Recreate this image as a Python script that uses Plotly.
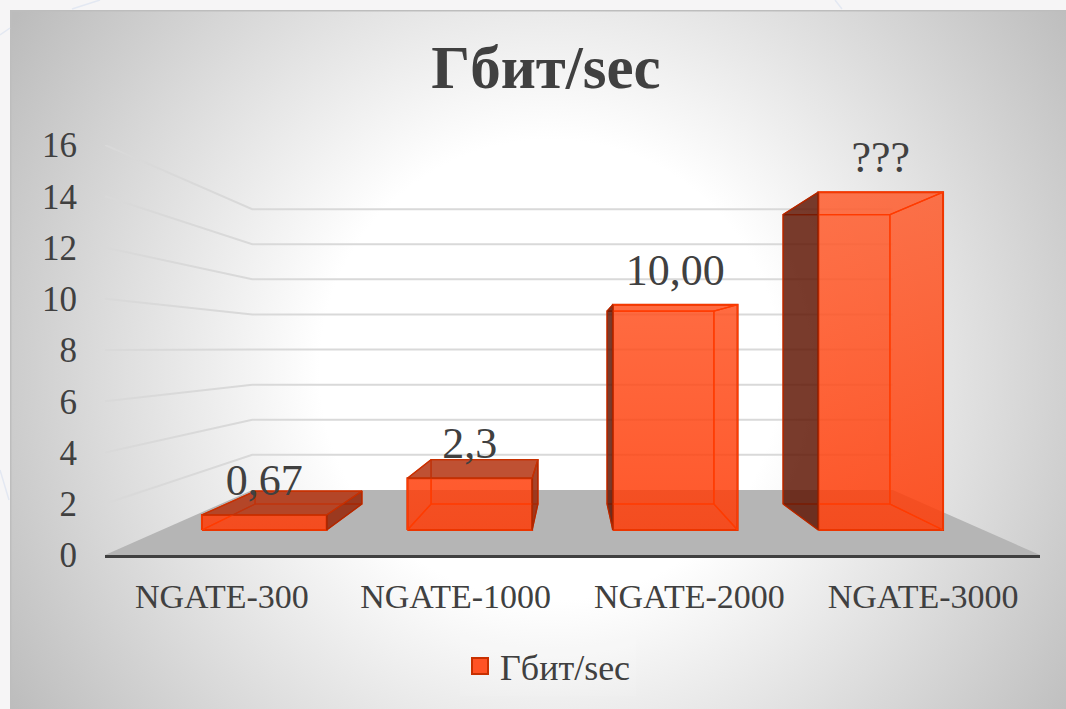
import base64
import plotly.graph_objects as go

# ---- data ----
categories = ["NGATE-300", "NGATE-1000", "NGATE-2000", "NGATE-3000"]
values = [0.67, 2.3, 10.0, 15.0]
value_labels = ["0,67", "2,3", "10,00", "???"]
y_ticks = [0, 2, 4, 6, 8, 10, 12, 14, 16]
series_name = "Гбит/sec"
chart_title = "Гбит/sec"

# ---- layout / perspective constants ----
W, H = 1066, 709
L, R, T, B = 105, 1040, 145, 555
FONT = "Liberation Serif"
TXT = "#404040"
CX, CY = 1.5, 8.055          # vanishing point in axis units
S_BACK, S_NEAR, S_FAR = 0.685, 0.879, 0.753
BAR_W = 0.607


def proj(x, h, s):
    return CX + s * (x - CX), CY + s * (h - CY)


def poly(pts):
    pts = list(pts) + [pts[0]]
    return [p[0] for p in pts], [p[1] for p in pts]


fig = go.Figure()


def face(pts, fill, line="#e23200", width=1.3, gradient=None):
    xs, ys = poly(pts)
    kw = dict(fillgradient=gradient) if gradient else dict(fillcolor=fill)
    fig.add_trace(go.Scatter(x=xs, y=ys, mode="lines", fill="toself",
                             line=dict(color=line, width=width),
                             hoverinfo="skip", showlegend=False, cliponaxis=False, **kw))


# floor
x0, x1 = -0.5, 3.5
face([proj(x0, 0, 1), proj(x0, 0, S_BACK), proj(x1, 0, S_BACK), proj(x1, 0, 1)],
     "#b5b5b5", line="rgba(0,0,0,0)", width=0)

# wall gridlines
for t in y_ticks[1:]:
    a, b, c = proj(x0, t, 1), proj(x0, t, S_BACK), proj(x1, t, S_BACK)
    fig.add_trace(go.Scatter(x=[a[0], b[0], c[0]], y=[a[1], b[1], c[1]], mode="lines",
                             line=dict(color="#d9d9d9", width=2),
                             hoverinfo="skip", showlegend=False, cliponaxis=False))

# bars
INNER = "rgba(255,60,5,0.0)"
SIDE_RIGHT = "rgba(150,35,5,0.85)"
SIDE_LEFT = "rgba(95,22,3,0.84)"
TOP_DARK = "rgba(180,50,15,0.85)"
EDGE = "#d83000"
FRONT_GRAD = dict(type="vertical", start=proj(0, 0, S_NEAR)[1], stop=proj(0, 15, S_NEAR)[1],
                  colorscale=[[0, "rgba(255,58,5,0.85)"], [1, "rgba(255,92,45,0.85)"]])
for i, v in enumerate(values):
    l, r = i - BAR_W / 2, i + BAR_W / 2
    nb = {"l": proj(l, 0, S_NEAR), "r": proj(r, 0, S_NEAR)}
    nt = {"l": proj(l, v, S_NEAR), "r": proj(r, v, S_NEAR)}
    fb = {"l": proj(l, 0, S_FAR), "r": proj(r, 0, S_FAR)}
    ft = {"l": proj(l, v, S_FAR), "r": proj(r, v, S_FAR)}
    # front
    face([nb["l"], nt["l"], nt["r"], nb["r"]], None, line=EDGE, width=2, gradient=FRONT_GRAD)
    # inner edges seen through the front
    face([fb["l"], ft["l"], ft["r"], fb["r"]], INNER, line="#ff3b00", width=1.2)
    face([nb["l"], fb["l"], fb["r"], nb["r"]], INNER, line="#ff3b00", width=1.2)
    left_visible = i > CX
    top_visible = v < CY
    if left_visible:
        face([nb["r"], nt["r"], ft["r"], fb["r"]], INNER, line="#ff3b00", width=1.2)
    else:
        face([nb["l"], nt["l"], ft["l"], fb["l"]], INNER, line="#ff3b00", width=1.2)
    if not top_visible:
        face([nt["l"], ft["l"], ft["r"], nt["r"]], INNER, line="#ff3b00", width=1.2)
    # visible outer faces
    if left_visible:
        face([nb["l"], nt["l"], ft["l"], fb["l"]], SIDE_LEFT, line="#b02800")
    else:
        face([nb["r"], nt["r"], ft["r"], fb["r"]], SIDE_RIGHT, line="#b02800")
    if top_visible:
        face([nt["l"], ft["l"], ft["r"], nt["r"]], TOP_DARK, line="#c83000")

# value labels
lx, ly = [], []
for i, v in enumerate(values):
    p = proj(i, v, S_NEAR)
    lx.append(p[0])
    ly.append(p[1] + 0.35)
fig.add_trace(go.Scatter(x=lx, y=ly, mode="text", text=value_labels, textposition="top center",
                         textfont=dict(family=FONT, size=44, color=TXT),
                         hoverinfo="skip", showlegend=False, cliponaxis=False))

# legend entry
fig.add_trace(go.Scatter(x=[None], y=[None], mode="markers", name=series_name,
                         marker=dict(symbol="square", size=16, color="#ff5224",
                                     line=dict(color="#c83000", width=2))))

# panel gradient
svg = (
    '<svg xmlns="http://www.w3.org/2000/svg" width="1056" height="699">'
    '<defs><radialGradient id="g" gradientUnits="userSpaceOnUse" cx="540" cy="360" r="640">'
    '<stop offset="0.36" stop-color="#ffffff"/>'
    '<stop offset="1" stop-color="#bcbcbc"/></radialGradient></defs>'
    '<rect width="1056" height="699" fill="url(#g)"/>'
    '<path d="M0 699V0H1056" fill="none" stroke="#bdbdbd" stroke-width="3"/>'
    '</svg>'
)
src = "data:image/svg+xml;base64," + base64.b64encode(svg.encode()).decode()
pw, ph = R - L, B - T


def px(xp):
    return (xp - L) / pw


def py(yp):
    return 1 - (yp - T) / ph


decor = [((0, 35), (10, 28)), ((72, 9), (100, 0)), ((835, 0), (842, 9)), ((0, 470), (9, 500))]
shapes = [dict(type="line", xref="paper", yref="paper", layer="below",
               x0=px(a[0]), y0=py(a[1]), x1=px(b[0]), y1=py(b[1]),
               line=dict(color="#e3e8f2", width=1.5)) for a, b in decor]

fig.update_layout(
    width=W, height=H, autosize=False,
    margin=dict(l=L, r=W - R, t=T, b=H - B, pad=0),
    paper_bgcolor="#f6f5f6", plot_bgcolor="rgba(0,0,0,0)",
    title=dict(text="<b>%s</b>" % chart_title, x=546 / W, xanchor="center", y=1 - 67 / H, yanchor="middle",
               font=dict(family=FONT, size=61, color=TXT)),
    xaxis=dict(range=[x0, x1], tickmode="array", tickvals=list(range(len(categories))), ticktext=categories,
               showgrid=False, zeroline=False, showline=True, linecolor="#404040", linewidth=3,
               ticks="", ticklen=0, ticklabelstandoff=9,
               tickfont=dict(family=FONT, size=34, color=TXT)),
    yaxis=dict(range=[0, 16], tickmode="array", tickvals=y_ticks, showgrid=False, zeroline=False,
               showline=False, ticks="", ticklabelstandoff=27,
               tickfont=dict(family=FONT, size=35, color=TXT)),
    showlegend=True,
    legend=dict(x=px(548), xanchor="center", y=py(666), yanchor="middle",
                orientation="h", bgcolor="rgba(255,255,255,0.10)",
                font=dict(family=FONT, size=36, color=TXT)),
    shapes=shapes,
    images=[dict(source=src, xref="paper", yref="paper", x=px(10), y=py(10),
                 sizex=1056 / pw, sizey=699 / ph, xanchor="left", yanchor="top",
                 sizing="stretch", layer="below")],
)
fig.write_html("out.html", config={"displayModeBar": False},
               post_script="document.body.style.margin='0';document.body.style.background='#f6f5f6';")
